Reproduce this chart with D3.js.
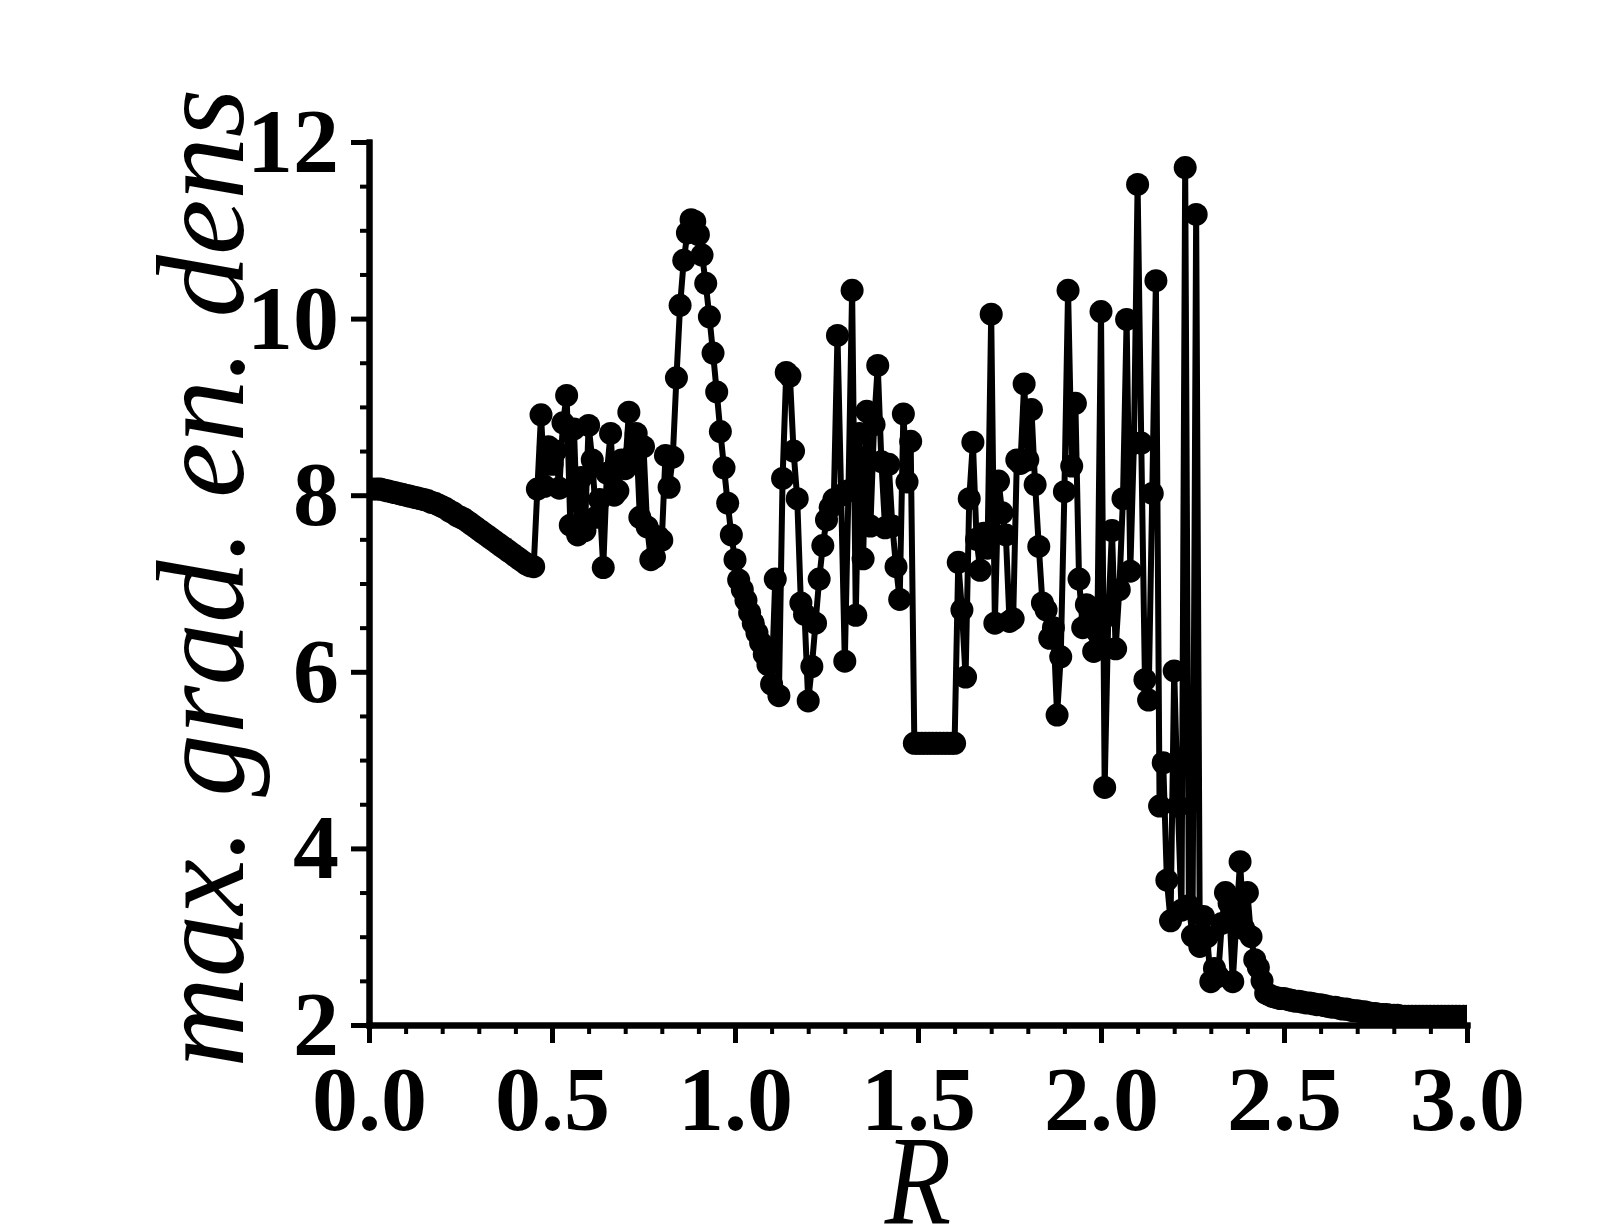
<!DOCTYPE html>
<html>
<head>
<meta charset="utf-8">
<script src="https://cdn.jsdelivr.net/npm/d3@7"></script>
<style>
  html, body { margin: 0; padding: 0; background: #fff; }
  svg { display: block; }
</style>
</head>
<body>
<svg id="chart" width="1609" height="1232"></svg>
<script>
// [R, max. grad. en. dens], segment by segment
const smoothStart = [
  [0.00, 8.07], [0.01, 8.07], [0.02, 8.07], [0.03, 8.07], [0.04, 8.06], [0.05, 8.05],
  [0.06, 8.04], [0.07, 8.03], [0.08, 8.02], [0.09, 8.01], [0.10, 8.00], [0.11, 7.99],
  [0.12, 7.98], [0.13, 7.97], [0.14, 7.96], [0.15, 7.95], [0.16, 7.94], [0.17, 7.92],
  [0.18, 7.91], [0.19, 7.89], [0.20, 7.87], [0.21, 7.85], [0.22, 7.82], [0.23, 7.80],
  [0.24, 7.77], [0.25, 7.75], [0.26, 7.73], [0.27, 7.70], [0.28, 7.67], [0.29, 7.64],
  [0.30, 7.61], [0.31, 7.58], [0.32, 7.55], [0.33, 7.52], [0.34, 7.49], [0.35, 7.46],
  [0.36, 7.43], [0.37, 7.40], [0.38, 7.37], [0.39, 7.34], [0.40, 7.31], [0.41, 7.28],
  [0.42, 7.25], [0.43, 7.22], [0.44, 7.20]
];
const burstA = [
  [0.45, 7.19], [0.46, 8.07], [0.47, 8.91], [0.48, 8.10], [0.49, 8.55], [0.50, 8.35],
  [0.51, 8.50], [0.52, 8.08], [0.53, 8.82], [0.54, 9.13], [0.55, 7.66], [0.56, 8.75],
  [0.57, 7.55], [0.58, 8.20], [0.59, 7.60], [0.60, 8.79], [0.61, 8.40], [0.62, 7.75],
  [0.63, 7.95], [0.64, 7.18], [0.65, 8.25], [0.66, 8.70], [0.67, 8.00], [0.68, 8.05],
  [0.69, 8.40], [0.70, 8.30], [0.71, 8.94], [0.72, 8.45], [0.73, 8.70], [0.74, 7.75],
  [0.75, 8.55], [0.76, 7.64], [0.77, 7.27], [0.78, 7.30], [0.79, 7.53], [0.80, 7.49],
  [0.81, 8.45], [0.82, 8.09], [0.83, 8.43]
];
const peak = [
  [0.84, 9.33], [0.85, 10.15], [0.86, 10.66], [0.87, 10.97], [0.88, 11.12], [0.89, 11.10],
  [0.90, 10.95], [0.91, 10.72], [0.92, 10.40], [0.93, 10.02], [0.94, 9.61], [0.95, 9.17],
  [0.96, 8.72], [0.97, 8.31], [0.98, 7.91], [0.99, 7.55], [1.00, 7.27], [1.01, 7.04],
  [1.02, 6.93], [1.03, 6.81], [1.04, 6.67], [1.05, 6.55], [1.06, 6.44], [1.07, 6.33],
  [1.08, 6.20], [1.09, 6.08], [1.10, 5.86]
];
const burstB = [
  [1.11, 7.05], [1.12, 5.73], [1.13, 8.19], [1.14, 9.39], [1.15, 9.35], [1.16, 8.50],
  [1.17, 7.96], [1.18, 6.78], [1.19, 6.65], [1.20, 5.67], [1.21, 6.06], [1.22, 6.55],
  [1.23, 7.05], [1.24, 7.43], [1.25, 7.72], [1.26, 7.86], [1.27, 7.95], [1.28, 9.81],
  [1.29, 8.00], [1.30, 6.12], [1.31, 8.05], [1.32, 10.32], [1.33, 6.64], [1.34, 8.70],
  [1.35, 7.28], [1.36, 8.95], [1.37, 7.65], [1.38, 8.80], [1.39, 9.47], [1.40, 8.38],
  [1.41, 7.63], [1.42, 8.35], [1.43, 7.65], [1.44, 7.19], [1.45, 6.82], [1.46, 8.92],
  [1.47, 8.15], [1.48, 8.61]
];
const plateau = [
  [1.49, 5.19], [1.50, 5.19], [1.51, 5.19], [1.52, 5.19], [1.53, 5.19], [1.54, 5.19],
  [1.55, 5.19], [1.56, 5.19], [1.57, 5.19], [1.58, 5.19], [1.59, 5.19], [1.60, 5.19]
];
const burstC = [
  [1.61, 7.24], [1.62, 6.70], [1.63, 5.94], [1.64, 7.96], [1.65, 8.60], [1.66, 7.50],
  [1.67, 7.15], [1.68, 7.57], [1.69, 7.40], [1.70, 10.05], [1.71, 6.55], [1.72, 8.16],
  [1.73, 7.80], [1.74, 7.55], [1.75, 6.57], [1.76, 6.60], [1.77, 8.40], [1.78, 8.36],
  [1.79, 9.26], [1.80, 8.40], [1.81, 8.97], [1.82, 8.12], [1.83, 7.42], [1.84, 6.78],
  [1.85, 6.70], [1.86, 6.38], [1.87, 6.50], [1.88, 5.51], [1.89, 6.17], [1.90, 8.04],
  [1.91, 10.32], [1.92, 8.33], [1.93, 9.04], [1.94, 7.05], [1.95, 6.50], [1.96, 6.76],
  [1.97, 6.60], [1.98, 6.23], [1.99, 6.45], [2.00, 10.08], [2.01, 4.69], [2.02, 6.64],
  [2.03, 7.60], [2.04, 6.26], [2.05, 6.93], [2.06, 7.96], [2.07, 9.99], [2.08, 7.14],
  [2.09, 8.59], [2.10, 11.52], [2.11, 8.59], [2.12, 5.91], [2.13, 5.68], [2.14, 8.02],
  [2.15, 10.43], [2.16, 4.48], [2.17, 4.97], [2.18, 3.64], [2.19, 3.18], [2.20, 6.01],
  [2.21, 4.48], [2.22, 3.30], [2.23, 11.71], [2.24, 3.35], [2.25, 3.01], [2.26, 11.18],
  [2.27, 2.89], [2.28, 3.23], [2.29, 3.00], [2.30, 2.49], [2.31, 2.64], [2.32, 2.55],
  [2.33, 3.15], [2.34, 3.50], [2.35, 3.38], [2.36, 2.49], [2.37, 3.20], [2.38, 3.85],
  [2.39, 3.09], [2.40, 3.50], [2.41, 3.00], [2.42, 2.74], [2.43, 2.65], [2.44, 2.50],
  [2.45, 2.36]
];
const tail = [
  [2.46, 2.34], [2.47, 2.32], [2.48, 2.31], [2.49, 2.30], [2.50, 2.30], [2.51, 2.29],
  [2.52, 2.28], [2.53, 2.27], [2.54, 2.27], [2.55, 2.26], [2.56, 2.25], [2.57, 2.25],
  [2.58, 2.24], [2.59, 2.23], [2.60, 2.23], [2.61, 2.22], [2.62, 2.21], [2.63, 2.20],
  [2.64, 2.20], [2.65, 2.19], [2.66, 2.18], [2.67, 2.18], [2.68, 2.17], [2.69, 2.16],
  [2.70, 2.16], [2.71, 2.15], [2.72, 2.15], [2.73, 2.14], [2.74, 2.13], [2.75, 2.13],
  [2.76, 2.12], [2.77, 2.12], [2.78, 2.12], [2.79, 2.11], [2.80, 2.11], [2.81, 2.11],
  [2.82, 2.10], [2.83, 2.10], [2.84, 2.10], [2.85, 2.10], [2.86, 2.10], [2.87, 2.10],
  [2.88, 2.10], [2.89, 2.10], [2.90, 2.10], [2.91, 2.10], [2.92, 2.10], [2.93, 2.10],
  [2.94, 2.10], [2.95, 2.10], [2.96, 2.10], [2.97, 2.10], [2.98, 2.10], [2.99, 2.10],
  [3.00, 2.10]
];

const xMajorTicks = [0, 0.5, 1.0, 1.5, 2.0, 2.5, 3.0];
const xMinorTicks = [0.1, 0.2, 0.3, 0.4, 0.6, 0.7, 0.8, 0.9, 1.1, 1.2, 1.3, 1.4,
  1.6, 1.7, 1.8, 1.9, 2.1, 2.2, 2.3, 2.4, 2.6, 2.7, 2.8, 2.9];
const yMajorTicks = [2, 4, 6, 8, 10, 12];
const yMinorTicks = [2.5, 3, 3.5, 4.5, 5, 5.5, 6.5, 7, 7.5, 8.5, 9, 9.5, 10.5, 11, 11.5];

const data = [].concat(smoothStart, burstA, peak, burstB, plateau, burstC, tail);

const svg = d3.select('#chart');
const FONT = '"Liberation Serif"';

const x = d3.scaleLinear().domain([0, 3]).range([369, 1467]);
const y = d3.scaleLinear().domain([2, 12]).range([1025, 142]);

// Clip marks to the plot frame, as in the original
svg.append('clipPath')
  .attr('id', 'plotClip')
  .append('rect')
  .attr('x', x(0))
  .attr('y', y(12) - 40)
  .attr('width', x(3) - x(0))
  .attr('height', y(2) - y(12) + 40);

const marks = svg.append('g').attr('clip-path', 'url(#plotClip)');

marks.append('path')
  .datum(data)
  .attr('d', d3.line().x(d => x(d[0])).y(d => y(d[1])))
  .style('fill', 'none')
  .style('stroke', '#000')
  .style('stroke-width', 6)
  .style('stroke-linejoin', 'round');

marks.append('g')
  .selectAll('circle')
  .data(data)
  .join('circle')
  .attr('cx', d => x(d[0]))
  .attr('cy', d => y(d[1]))
  .attr('r', 11.5)
  .style('fill', '#000');

// Axes
const styleAxis = (g, width) => {
  g.select('.domain').style('stroke-width', 6).style('stroke-linecap', 'square');
  g.selectAll('.tick line').style('stroke-width', width);
  g.selectAll('text')
    .style('font-family', FONT)
    .style('font-weight', 'bold')
    .style('font-size', '92px')
    .style('fill', '#000');
};

svg.append('g')
  .attr('transform', 'translate(0,1025)')
  .call(d3.axisBottom(x).tickValues(xMinorTicks).tickSize(9).tickSizeOuter(0).tickFormat(''))
  .call(g => styleAxis(g, 4));
svg.append('g')
  .attr('transform', 'translate(0,1025)')
  .call(d3.axisBottom(x).tickValues(xMajorTicks).tickSize(18).tickSizeOuter(0)
    .tickPadding(22).tickFormat(d3.format('.1f')))
  .call(g => styleAxis(g, 5));

svg.append('g')
  .attr('transform', 'translate(369,0)')
  .call(d3.axisLeft(y).tickValues(yMinorTicks).tickSize(9).tickSizeOuter(0).tickFormat(''))
  .call(g => styleAxis(g, 4));
svg.append('g')
  .attr('transform', 'translate(369,0)')
  .call(d3.axisLeft(y).tickValues(yMajorTicks).tickSize(18).tickSizeOuter(0)
    .tickPadding(12).tickFormat(d3.format('d')))
  .call(g => styleAxis(g, 5));

// Axis titles
svg.append('text')
  .attr('transform', 'translate(243,578) rotate(-90)')
  .attr('text-anchor', 'middle')
  .style('font-family', FONT)
  .style('font-style', 'italic')
  .style('font-size', '125px')
  .text('max. grad. en. dens');

svg.append('text')
  .attr('transform', 'translate(918,1224) scale(0.85,1)')
  .attr('text-anchor', 'middle')
  .style('font-family', FONT)
  .style('font-style', 'italic')
  .style('font-size', '128px')
  .text('R');
</script>
</body>
</html>
